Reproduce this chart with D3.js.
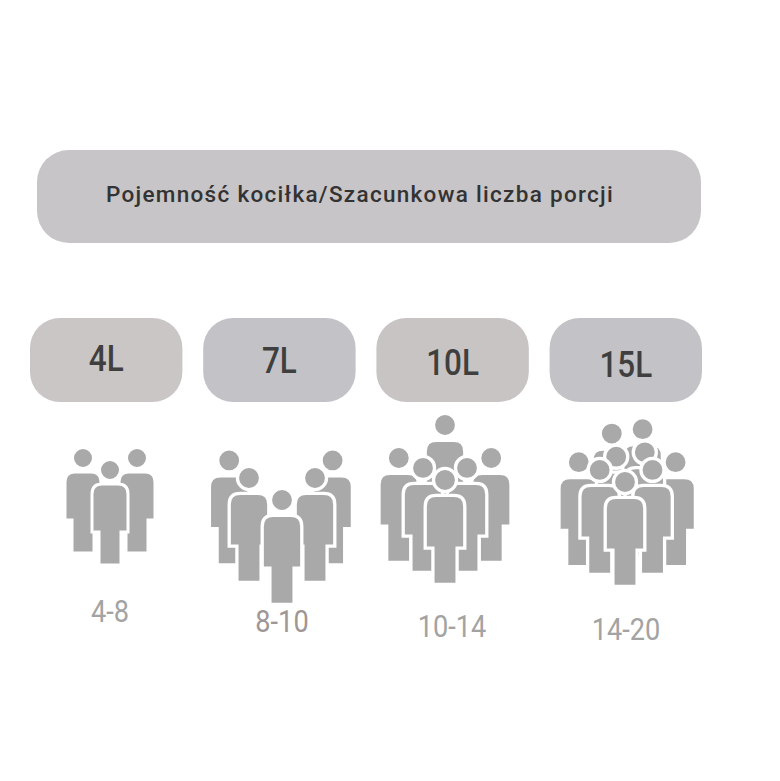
<!DOCTYPE html>
<html><head><meta charset="utf-8">
<script src="https://cdn.jsdelivr.net/npm/d3@7"></script>
<style>body{margin:0;background:#fff}</style>
</head><body>
<svg width="780" height="781"></svg>
<script>
var title = "Pojemność kociłka/Szacunkowa liczba porcji";
var capacities = ["4L", "7L", "10L", "15L"];
var servings = ["4-8", "8-10", "10-14", "14-20"];
var pillColors = ["#cac6c6", "#c3c2c6", "#c8c4c4", "#c3c2c6"];

// crowd layouts, back to front: [dx, dy] of each head relative to the front person
var crowds = [
  [[-27,-12],[27,-12],[0,0]],
  [[-48,-36],[46,-36],[-30,-20],[30,-20],[0,0]],
  [[0,-50],[-42,-20],[42,-20],[-20,-11],[20,-11],[0,0]],
  [[-12,-44],[16,-48],[-42,-18],[46,-18],[-8,-23],[18,-27],[-23,-11],[25,-11],[0,0]]
];
var fronts = [[110,470],[282,500],[445,480],[625,482]];
var scales = [1, 1.1, 1.1, 1.1];

var svg = d3.select("svg");
var x = d3.scaleBand().domain(capacities).range([30, 702]).paddingInner(0.12);

svg.append("rect").attr("x", 37).attr("y", 150).attr("width", 664).attr("height", 93)
  .attr("rx", 32).attr("fill", "#c7c5c7");
svg.append("text").attr("x", 360).attr("y", 202).attr("text-anchor", "middle")
  .attr("font-family", "Roboto").attr("font-weight", 500).attr("letter-spacing", 1.3)
  .attr("font-size", 22.5).attr("fill", "#333").text(title);

var g = svg.selectAll("g.cap").data(capacities).enter().append("g").attr("class", "cap");
g.append("rect").attr("x", d => x(d)).attr("y", 318).attr("width", x.bandwidth()).attr("height", 84)
  .attr("rx", 30).attr("fill", (d, i) => pillColors[i]);
g.append("text").attr("transform", (d, i) => "translate(" + (x(d) + x.bandwidth() / 2) + "," + (371 + i * 2) + ") scale(0.85,1)")
  .attr("text-anchor", "middle").attr("font-family", "Roboto").attr("font-weight", 500).attr("font-size", 37)
  .attr("fill", "#3f3f3f").text(d => d);

var body = "M-18,24 Q-18,14 -8,14 L8,14 Q18,14 18,24 L18,62 L11,62 L11,95 L-11,95 L-11,62 L-18,62 Z";
crowds.forEach(function(c, i) {
  var cg = svg.append("g").attr("transform", "translate(" + fronts[i][0] + "," + fronts[i][1] + ") scale(" + scales[i] + ")");
  c.forEach(function(p) {
    var pg = cg.append("g").attr("transform", "translate(" + p[0] + "," + p[1] + ")");
    pg.append("path").attr("d", body).attr("fill", "#a9a9a9").attr("stroke", "#fff").attr("stroke-width", 3);
    pg.append("circle").attr("r", 10.5).attr("fill", "#a9a9a9").attr("stroke", "#fff").attr("stroke-width", 3);
  });
});

var ly = [622, 632, 637, 640];
svg.selectAll("text.srv").data(servings).enter().append("text").attr("class", "srv")
  .attr("transform", (d, i) => "translate(" + [110, 282, 452, 626][i] + "," + ly[i] + ") scale(0.85,1)")
  .attr("text-anchor", "middle").attr("font-family", "Roboto").attr("font-size", 32)
  .attr("fill", (d, i) => i == 1 ? "#9f9696" : "#a3a3a3").text(d => d);
</script>
</body></html>
